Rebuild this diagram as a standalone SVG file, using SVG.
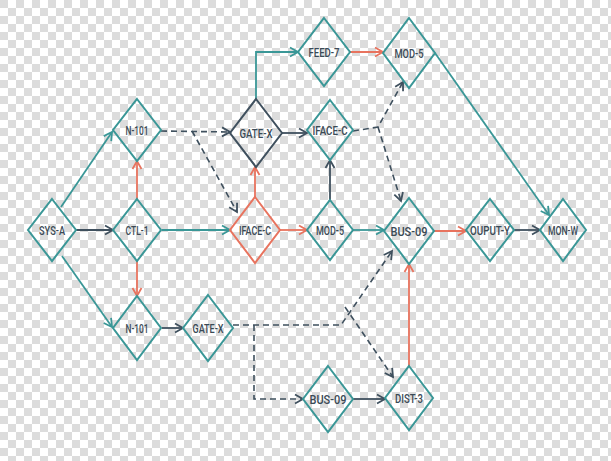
<svg xmlns="http://www.w3.org/2000/svg" width="611" height="461" viewBox="0 0 611 461">
<defs>
<pattern id="cb" width="16" height="16" patternUnits="userSpaceOnUse">
<rect width="16" height="16" fill="#ffffff"/>
<rect width="8" height="8" fill="#dcdcdc"/>
<rect x="8" y="8" width="8" height="8" fill="#dcdcdc"/>
</pattern>
<marker id="aT" markerUnits="userSpaceOnUse" markerWidth="12" markerHeight="12" refX="9" refY="6" orient="auto"><path d="M1,1.5 L9,6 L1,10.5" fill="none" stroke="#3a9797" stroke-width="1.8" stroke-dasharray="none"/></marker>
<marker id="aD" markerUnits="userSpaceOnUse" markerWidth="12" markerHeight="12" refX="9" refY="6" orient="auto"><path d="M1,1.5 L9,6 L1,10.5" fill="none" stroke="#3f505e" stroke-width="1.8" stroke-dasharray="none"/></marker>
<marker id="aO" markerUnits="userSpaceOnUse" markerWidth="12" markerHeight="12" refX="9" refY="6" orient="auto"><path d="M1,1.5 L9,6 L1,10.5" fill="none" stroke="#e8735e" stroke-width="1.8" stroke-dasharray="none"/></marker>
</defs>
<style>
.n{fill:none;stroke:#3a9797;stroke-width:2;stroke-linejoin:miter}
.nd{stroke:#3f505e}
.no{stroke:#e8735e}
.t{font-family:Roboto,"Liberation Sans",sans-serif;font-size:12.5px;font-weight:500;fill:#3a4a56;text-anchor:middle}
.e{fill:none;stroke-width:1.8}
.et{stroke:#3a9797;marker-end:url(#aT)}
.ed{stroke:#3f505e;marker-end:url(#aD)}
.eo{stroke:#e8735e;marker-end:url(#aO)}
.dash{stroke:#3f505e;stroke-dasharray:6 4;stroke-width:1.6;fill:none}
</style>
<rect width="611" height="461" fill="url(#cb)"/>
<g id="connectors">
<path class="e et" d="M61,207 L112,132"/>
<path class="e et" d="M62,256 L112,327"/>
<path class="e et" d="M162,230 H230"/>
<path class="e et" d="M256,99 V52 H298"/>
<path class="e et" d="M353,230 H384"/>
<path class="e et" d="M435,53 L549,215"/>
<path class="e ed" d="M76,230 H113"/>
<path class="e ed" d="M282,133 H307"/>
<path class="e ed" d="M330,200 V160"/>
<path class="e ed" d="M514,230 H540"/>
<path class="e ed" d="M162,328 H183"/>
<path class="e ed" d="M353,399 H385"/>
<path class="e eo" d="M137,199 V161"/>
<path class="e eo" d="M137,261 V296"/>
<path class="e eo" d="M255,197 V167"/>
<path class="e eo" d="M280,230 H307"/>
<path class="e eo" d="M350,52 H383"/>
<path class="e eo" d="M433,231 H466"/>
<path class="e eo" d="M409,366 V264"/>
<path class="dash" marker-end="url(#aD)" d="M161,131 L230,132"/>
<path class="dash" marker-end="url(#aD)" d="M192,131 L237,212"/>
<path class="dash" marker-end="url(#aD)" d="M353,131 L378,127 L403,82"/>
<path class="dash" marker-end="url(#aD)" d="M378,127 L401,201"/>
<path class="dash" marker-end="url(#aD)" d="M233,325 H341 L392,251"/>
<path class="dash" marker-end="url(#aD)" d="M345,307 L393,377"/>
<path class="dash" marker-end="url(#aD)" d="M254,325 V399 H303"/>
</g>
<g id="sys-a"><path class="n" d="M52,199 L76,230 L52,261 L28,230 Z"/><text class="t" x="52" y="234.5" textLength="26" lengthAdjust="spacingAndGlyphs">SYS-A</text></g>
<g id="ctl-1"><path class="n" d="M137,199 L161,230 L137,261 L113,230 Z"/><text class="t" x="137" y="234.5" textLength="23" lengthAdjust="spacingAndGlyphs">CTL-1</text></g>
<g id="n-101-top"><path class="n" d="M137,99 L161,130 L137,161 L113,130 Z"/><text class="t" x="137" y="134.5" textLength="23" lengthAdjust="spacingAndGlyphs">N-101</text></g>
<g id="n-101-bottom"><path class="n" d="M137,296 L161,328 L137,360 L113,328 Z"/><text class="t" x="137" y="332.5" textLength="23" lengthAdjust="spacingAndGlyphs">N-101</text></g>
<g id="gate-x-top"><path class="n nd" d="M256,99 L282,133 L256,167 L230,133 Z"/><text class="t" x="256" y="137.5" textLength="33" lengthAdjust="spacingAndGlyphs">GATE-X</text></g>
<g id="gate-x-bottom"><path class="n" d="M208,295 L233,328 L208,361 L183,328 Z"/><text class="t" x="208" y="332.5" textLength="31" lengthAdjust="spacingAndGlyphs">GATE-X</text></g>
<g id="feed-7"><path class="n" d="M324,18 L350,52 L324,86 L298,52 Z"/><text class="t" x="324" y="56.5" textLength="31" lengthAdjust="spacingAndGlyphs">FEED-7</text></g>
<g id="mod-5-top"><path class="n" d="M409,18 L435,53 L409,88 L383,53 Z"/><text class="t" x="409" y="57.5" textLength="29" lengthAdjust="spacingAndGlyphs">MOD-5</text></g>
<g id="iface-c-top"><path class="n" d="M330,100 L353,130 L330,160 L307,130 Z"/><text class="t" x="330" y="134.5" textLength="35" lengthAdjust="spacingAndGlyphs">IFACE-C</text></g>
<g id="iface-c-mid"><path class="n no" d="M255,197 L280,230 L255,263 L230,230 Z"/><text class="t" x="255" y="234.5" textLength="32" lengthAdjust="spacingAndGlyphs">IFACE-C</text></g>
<g id="mod-5-mid"><path class="n" d="M330,200 L353,230 L330,260 L307,230 Z"/><text class="t" x="330" y="234.5" textLength="28" lengthAdjust="spacingAndGlyphs">MOD-5</text></g>
<g id="bus-09-mid"><path class="n" d="M409,198 L434,231 L409,264 L384,231 Z"/><text class="t" x="409" y="235.5" textLength="37" lengthAdjust="spacingAndGlyphs">BUS-09</text></g>
<g id="ouput-y"><path class="n" d="M490,199 L514,230 L490,261 L466,230 Z"/><text class="t" x="490" y="234.5" textLength="40" lengthAdjust="spacingAndGlyphs">OUPUT-Y</text></g>
<g id="mon-w"><path class="n" d="M563,199 L586,230 L563,261 L540,230 Z"/><text class="t" x="563" y="234.5" textLength="30" lengthAdjust="spacingAndGlyphs">MON-W</text></g>
<g id="bus-09-bottom"><path class="n" d="M328,366 L353,399 L328,432 L303,399 Z"/><text class="t" x="328" y="403.5" textLength="37" lengthAdjust="spacingAndGlyphs">BUS-09</text></g>
<g id="dist-3"><path class="n" d="M409,366 L433,398 L409,430 L385,398 Z"/><text class="t" x="409" y="402.5" textLength="28" lengthAdjust="spacingAndGlyphs">DIST-3</text></g>
</svg>
